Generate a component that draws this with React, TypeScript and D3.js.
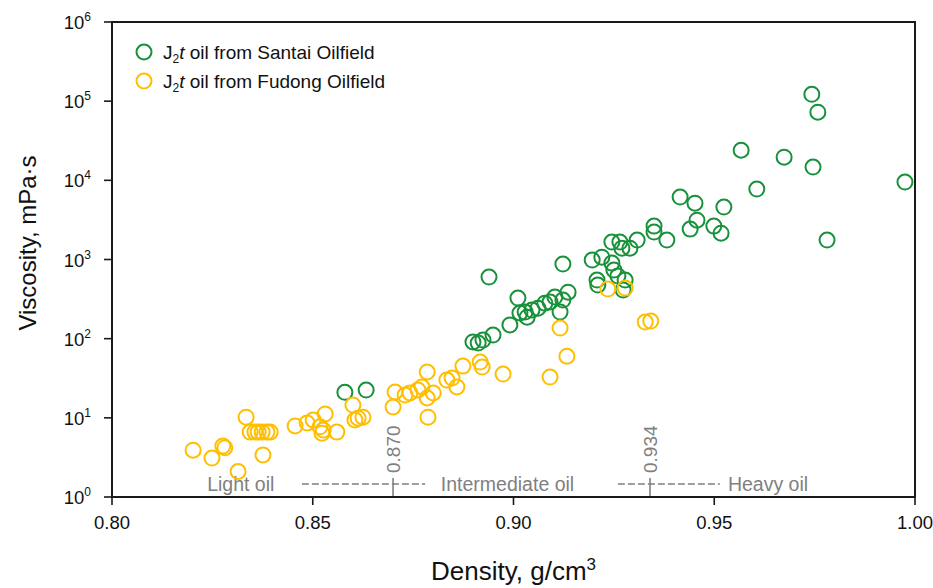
import React, { useEffect, useRef } from "react";
import * as d3 from "d3";

// J2t oil from Santai Oilfield (density g/cm3, viscosity mPa·s)
const santaiDensity = [
  0.858, 0.8633, 0.8899, 0.8912, 0.8924, 0.8939, 0.8949, 0.8991, 0.9011, 0.9016,
  0.9029, 0.9034, 0.9046, 0.9061, 0.9078, 0.9091, 0.9103, 0.9123, 0.9136, 0.9116,
  0.9123, 0.9196, 0.922, 0.9245, 0.925, 0.926, 0.9208, 0.921, 0.9278, 0.9273,
  0.9245, 0.9265, 0.927, 0.929, 0.9308, 0.935, 0.935, 0.9382, 0.9415, 0.9452,
  0.9524, 0.9457, 0.944, 0.9499, 0.9517, 0.9567, 0.9606, 0.9674, 0.9743, 0.9758,
  0.9746, 0.9781, 0.9975,
];
const santaiViscosity = [
  21, 22.4, 91, 88, 96, 600, 111, 149, 326, 211,
  217, 187, 230, 243, 281, 290, 335, 307, 387, 217,
  875, 983, 1070, 900, 735, 617, 550, 475, 550, 411,
  1660, 1660, 1390, 1390, 1760, 2640, 2220, 1760, 6140, 5150,
  4590, 3140, 2420, 2640, 2150, 24000, 7750, 19600, 122000, 72600,
  14700, 1760, 9500,
];

// J2t oil from Fudong Oilfield
const fudongDensity = [
  0.8202, 0.8249, 0.8276, 0.8281, 0.8314, 0.8334, 0.8344, 0.8356, 0.8364, 0.8374,
  0.8386, 0.8394, 0.8376, 0.8456, 0.8486, 0.8501, 0.8531, 0.8518, 0.8526, 0.8523,
  0.856, 0.86, 0.8605, 0.8613, 0.8625, 0.87, 0.8705, 0.873, 0.8742, 0.8762,
  0.8772, 0.8785, 0.8785, 0.88, 0.8787, 0.8834, 0.8847, 0.8859, 0.8874, 0.8917,
  0.8922, 0.8974, 0.9091, 0.9133, 0.9116, 0.9235, 0.9278, 0.9328, 0.9342,
];
const fudongViscosity = [
  3.9, 3.1, 4.4, 4.2, 2.1, 10.2, 6.6, 6.6, 6.6, 6.6,
  6.6, 6.6, 3.4, 7.9, 8.6, 9.4, 11.2, 7.7, 7.0, 6.4,
  6.6, 14.5, 9.4, 9.9, 10.2, 13.7, 21.2, 19.4, 20.6, 22.4,
  24.5, 37.9, 17.8, 20.6, 10.2, 30, 31.8, 24.5, 45, 50.6,
  43.8, 35.7, 32.7, 60, 136, 423, 435, 162, 167,
];

const xTicks = [0.8, 0.85, 0.9, 0.95, 1.0];
const yExponents = [0, 1, 2, 3, 4, 5, 6];

const seriesNames = ["Santai", "Fudong"];
const seriesColors = ["#17913a", "#ffbf00"];

// density cut-offs between oil classes
const cutoffs = [0.87, 0.934];
const cutoffLabels = ["0.870", "0.934"];
const classNames = ["Light oil", "Intermediate oil", "Heavy oil"];
const classTextStart = [0.8237, 0.8819, 0.9534];
const dashSegments = [
  [0.8473, 0.878],
  [0.926, 0.9514],
];

export default function App() {
  const ref = useRef<SVGSVGElement>(null);

  useEffect(() => {
    const width = 933;
    const height = 588;
    const margin = { top: 22, right: 18, bottom: 91, left: 112 };
    const innerW = width - margin.left - margin.right;
    const innerH = height - margin.top - margin.bottom;

    const svg = d3.select(ref.current);
    svg.selectAll("*").remove();

    const font = "'Liberation Sans', Arial, sans-serif";
    const grey = "#808080";

    const x = d3.scaleLinear().domain([0.8, 1.0]).range([0, innerW]);
    const y = d3.scaleLog().domain([1, 1e6]).range([innerH, 0]);

    const g = svg
      .append("g")
      .attr("transform", `translate(${margin.left},${margin.top})`)
      .style("font-family", font);

    // oil class annotations along the bottom
    const annY = innerH - 13;
    g.selectAll("line.dash")
      .data(dashSegments)
      .join("line")
      .attr("class", "dash")
      .attr("x1", (d) => x(d[0]))
      .attr("x2", (d) => x(d[1]))
      .attr("y1", annY)
      .attr("y2", annY)
      .attr("stroke", grey)
      .attr("stroke-width", 1.6)
      .attr("stroke-dasharray", "7,3");

    g.selectAll("line.cut")
      .data(cutoffs)
      .join("line")
      .attr("class", "cut")
      .attr("x1", (d) => x(d))
      .attr("x2", (d) => x(d))
      .attr("y1", annY - 6)
      .attr("y2", innerH)
      .attr("stroke", grey)
      .attr("stroke-width", 1.6);

    g.selectAll("text.cutlabel")
      .data(cutoffs)
      .join("text")
      .attr("class", "cutlabel")
      .attr("transform", (d) => `translate(${x(d) + 7},${annY - 11}) rotate(-90)`)
      .attr("fill", grey)
      .style("font-size", "19px")
      .text((d, i) => cutoffLabels[i]);

    g.selectAll("text.oilclass")
      .data(classNames)
      .join("text")
      .attr("class", "oilclass")
      .attr("x", (d, i) => x(classTextStart[i]))
      .attr("y", annY + 7)
      .attr("fill", grey)
      .style("font-size", "19.5px")
      .text((d) => d);

    // the points
    const series = [
      { dens: santaiDensity, visc: santaiViscosity, color: seriesColors[0] },
      { dens: fudongDensity, visc: fudongViscosity, color: seriesColors[1] },
    ];
    series.forEach((s) => {
      g.append("g")
        .selectAll("circle")
        .data(s.dens.map((d, i) => [d, s.visc[i]]))
        .join("circle")
        .attr("cx", (d) => x(d[0]))
        .attr("cy", (d) => y(d[1]))
        .attr("r", 7.5)
        .attr("fill", "none")
        .attr("stroke", s.color)
        .attr("stroke-width", 2);
    });

    // frame
    const axisColor = "#1a1a1a";
    g.append("path")
      .attr("d", `M0,0H${innerW}V${innerH}H0Z`)
      .attr("fill", "none")
      .attr("stroke", axisColor)
      .attr("stroke-width", 2);

    // x ticks + labels
    const xt = g.selectAll("g.xt").data(xTicks).join("g").attr("class", "xt")
      .attr("transform", (d) => `translate(${x(d)},${innerH})`);
    xt.append("line").attr("y2", 8).attr("stroke", axisColor).attr("stroke-width", 1.6);
    xt.append("text")
      .attr("y", 32)
      .attr("text-anchor", "middle")
      .attr("fill", "#111")
      .style("font-size", "18.5px")
      .text((d) => d.toFixed(2));

    // y ticks + labels (powers of ten)
    const yt = g.selectAll("g.yt").data(yExponents).join("g").attr("class", "yt")
      .attr("transform", (d) => `translate(0,${y(Math.pow(10, d))})`);
    yt.append("line").attr("x2", -8).attr("stroke", axisColor).attr("stroke-width", 1.6);
    const ylab = yt.append("text")
      .attr("x", -21)
      .attr("y", 7)
      .attr("text-anchor", "end")
      .attr("fill", "#111")
      .style("font-size", "18.5px");
    ylab.append("tspan").text("10");
    ylab.append("tspan")
      .attr("dy", -8)
      .style("font-size", "12px")
      .text((d) => String(d));

    // axis titles
    const xTitle = svg.append("text")
      .attr("x", margin.left + innerW / 2)
      .attr("y", 580)
      .attr("text-anchor", "middle")
      .style("font-family", font)
      .style("font-size", "26px")
      .attr("fill", "#111");
    xTitle.append("tspan").text("Density, g/cm");
    xTitle.append("tspan").attr("dy", -10).style("font-size", "17px").text("3");

    svg.append("text")
      .attr("transform", `translate(36,243) rotate(-90)`)
      .attr("text-anchor", "middle")
      .style("font-family", font)
      .style("font-size", "24px")
      .attr("fill", "#111")
      .text("Viscosity, mPa·s");

    // legend
    const legend = g.selectAll("g.leg").data(seriesNames).join("g").attr("class", "leg")
      .attr("transform", (d, i) => `translate(32,${30 + i * 29})`);
    legend.append("circle")
      .attr("r", 7.5)
      .attr("fill", "none")
      .attr("stroke", (d, i) => seriesColors[i])
      .attr("stroke-width", 2);
    const lt = legend.append("text")
      .attr("x", 19)
      .attr("y", 7)
      .attr("fill", "#111")
      .style("font-size", "19px");
    lt.append("tspan").text("J");
    lt.append("tspan").attr("dy", 4).style("font-size", "12px").text("2");
    lt.append("tspan").attr("dy", -4).style("font-style", "italic").text("t");
    lt.append("tspan").text((d) => ` oil from ${d} Oilfield`);
  }, []);

  return (
    <svg
      ref={ref}
      width={933}
      height={588}
      style={{ position: "absolute", left: 0, top: 0, background: "#fff" }}
    />
  );
}
